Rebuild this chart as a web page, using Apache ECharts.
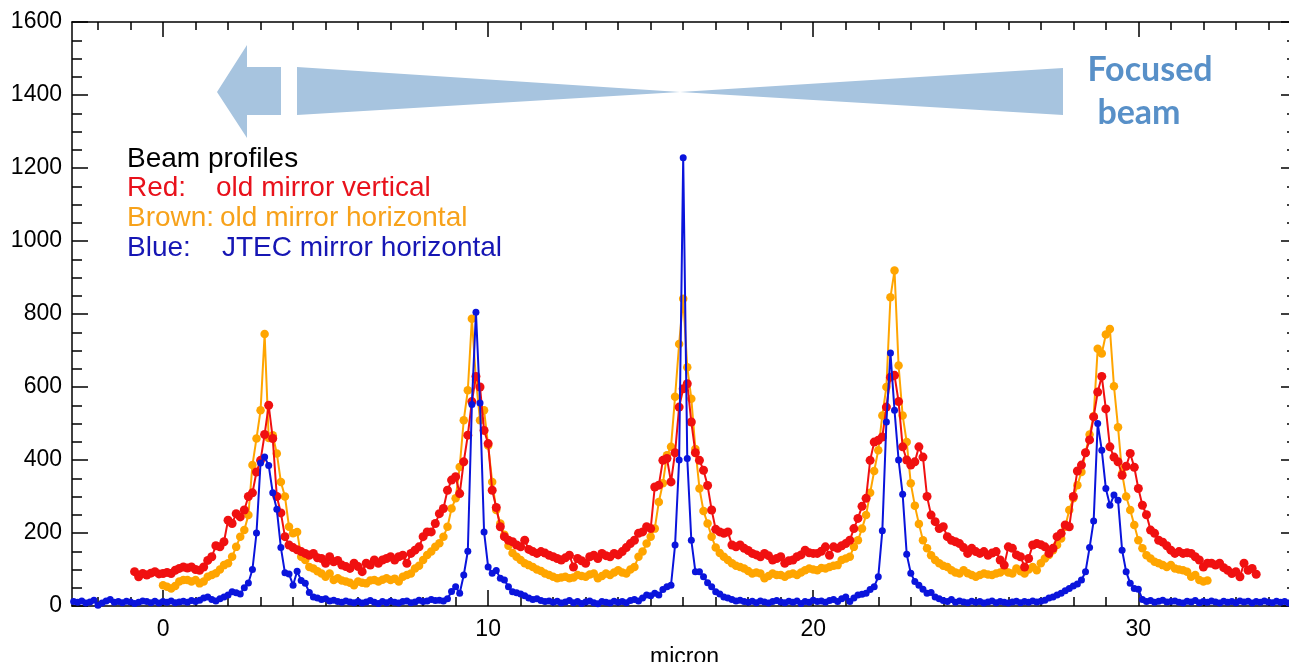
<!DOCTYPE html>
<html>
<head>
<meta charset="utf-8">
<title>Beam profiles</title>
<script src="https://cdn.jsdelivr.net/npm/echarts@6/dist/echarts.min.js"></script>
<style>
  html, body { margin: 0; padding: 0; background: #ffffff; }
  #chart { width: 1289px; height: 662px; }
</style>
</head>
<body>
<div id="chart"></div>
<script>
// Scan positions: each profile is sampled on a regular 0.125 micron grid.
const sampleStep = 0.125;
const redStart = -0.875;
const orangeStart = 0.0;
const blueStart = -2.75;

// Red: old mirror vertical
const redValues = [
  94, 80, 89, 85, 90, 94, 88,
  89, 92, 89, 98, 103, 107, 104, 107,
  100, 98, 107, 125, 135, 165, 162, 176,
  235, 226, 253, 244, 263, 300, 310, 367,
  399, 470, 550, 459, 300, 255, 190, 167,
  160, 154, 149, 144, 139, 144, 132, 130,
  117, 135, 121, 125, 112, 108, 103, 117,
  108, 94, 117, 112, 126, 117, 126, 130,
  135, 126, 135, 139, 117, 144, 153, 162,
  190, 203, 203, 226, 253, 267, 317, 345,
  354, 308, 395, 468, 560, 629, 600, 481,
  445, 317, 270, 217, 190, 180, 176, 167,
  162, 180, 155, 149, 144, 149, 145, 139,
  135, 130, 126, 132, 139, 107, 130, 124,
  117, 135, 139, 130, 144, 138, 135, 144,
  140, 149, 160, 171, 180, 199, 203, 217,
  212, 326, 331, 399, 404, 340, 420, 545,
  595, 609, 504, 420, 399, 372, 330, 263,
  210, 203, 199, 203, 167, 162, 167, 158,
  152, 144, 140, 135, 144, 138, 126, 130,
  135, 117, 124, 126, 135, 140, 153, 146,
  144, 144, 150, 162, 139, 162, 158, 165,
  171, 180, 212, 240, 273, 295, 399, 449,
  454, 463, 545, 627, 632, 560, 436, 400,
  386, 395, 436, 408, 300, 249, 231, 212,
  217, 190, 180, 176, 171, 160, 144, 158,
  149, 144, 149, 139, 145, 149, 126, 112,
  162, 158, 140, 135, 107, 130, 167, 171,
  168, 162, 144, 158, 190, 199, 222, 217,
  300, 370, 386, 420, 455, 518, 586, 629,
  540, 436, 408, 395, 358, 383, 418, 380,
  322, 276, 250, 208, 199, 180, 175, 165,
  153, 144, 149, 144, 146, 144, 135, 126,
  107, 117, 117, 112, 117, 105, 98, 89,
  94, 80, 117, 98, 103, 87
];

// Brown: old mirror horizontal
const orangeValues = [
  57, 53, 48, 55, 67, 71, 71, 67,
  71, 62, 67, 80, 85, 90, 100, 112,
  117, 135, 162, 190, 208, 249, 386, 459,
  536, 745, 460, 468, 418, 340, 300, 217,
  199, 203, 135, 126, 107, 103, 95, 89,
  80, 89, 71, 76, 70, 67, 64, 57,
  67, 64, 62, 70, 71, 67, 72, 76,
  71, 75, 67, 80, 85, 89, 103, 110,
  126, 140, 149, 162, 172, 190, 217, 267,
  295, 381, 509, 591, 787, 620, 509, 536,
  440, 340, 263, 226, 195, 165, 145, 135,
  126, 117, 112, 107, 100, 96, 89, 85,
  80, 76, 78, 80, 76, 78, 85, 82,
  80, 86, 89, 76, 82, 89, 85, 92,
  98, 92, 89, 100, 107, 135, 149, 171,
  190, 212, 285, 336, 413, 436, 573, 718,
  842, 654, 568, 430, 322, 260, 226, 190,
  160, 145, 135, 126, 117, 110, 107, 103,
  96, 89, 92, 89, 76, 82, 89, 85,
  85, 80, 86, 89, 85, 92, 98, 103,
  100, 98, 104, 103, 107, 110, 112, 126,
  130, 135, 162, 180, 212, 249, 310, 370,
  427, 522, 600, 846, 919, 659, 522, 449,
  336, 275, 225, 180, 158, 139, 126, 117,
  110, 107, 98, 92, 89, 98, 90, 85,
  80, 85, 89, 86, 85, 89, 92, 98,
  92, 89, 103, 95, 89, 100, 107, 98,
  117, 130, 140, 153, 167, 185, 217, 263,
  295, 331, 367, 420, 470, 520, 705, 692,
  744, 759, 602, 490, 363, 300, 263, 222,
  180, 158, 139, 130, 121, 117, 112, 107,
  112, 103, 100, 98, 94, 80, 85, 71,
  67, 70
];

// Blue: JTEC mirror horizontal
const blueValues = [
  12, 10, 14, 8, 11, 16,
  2, 8, 14, 18, 10, 12, 9, 13,
  11, 7, 10, 14, 12, 9, 13, 8,
  12, 10, 14, 9, 11, 13, 10, 15,
  12, 16, 22, 25, 18, 14, 20, 25,
  30, 39, 36, 33, 50, 63, 100, 200,
  392, 408, 385, 310, 265, 160, 91, 88,
  57, 95, 70, 62, 37, 25, 22, 18,
  20, 14, 16, 12, 10, 14, 11, 9,
  12, 8, 11, 15, 10, 7, 12, 9,
  13, 10, 8, 12, 14, 9, 11, 16,
  12, 14, 18, 15, 16, 14, 20, 40,
  53, 35, 85, 150, 552, 805, 556, 203,
  107, 90, 97, 76, 71, 53, 39, 36,
  33, 28, 22, 18, 20, 15, 12, 14,
  10, 13, 8, 11, 15, 9, 12, 7,
  11, 14, 9, 6, 12, 10, 8, 13,
  10, 12, 9, 15, 18, 14, 22, 30,
  28, 35, 30, 45, 53, 57, 167, 400,
  1228, 404, 180, 94, 94, 80, 64, 53,
  39, 33, 25, 22, 18, 14, 16, 12,
  10, 13, 9, 14, 11, 8, 12, 15,
  11, 9, 13, 10, 14, 7, 12, 10,
  16, 12, 14, 10, 15, 18, 12, 20,
  25, 12, 22, 30, 32, 35, 45, 53,
  80, 206, 504, 693, 536, 400, 306, 142,
  90, 67, 57, 46, 35, 37, 25, 20,
  15, 12, 18, 10, 14, 11, 9, 13,
  10, 12, 8, 11, 14, 9, 12, 10,
  8, 11, 13, 9, 12, 10, 14, 11,
  13, 16, 22, 25, 30, 35, 42, 48,
  55, 60, 71, 94, 160, 233, 500, 427,
  322, 276, 304, 290, 153, 94, 62, 48,
  46, 18, 12, 15, 10, 13, 16, 11,
  12, 14, 10, 8, 13, 11, 15, 9,
  12, 10, 14, 11, 8, 13, 10, 12,
  9, 14, 11, 13, 8, 12, 10, 14,
  11, 9, 13, 10, 12, 8, 11
];

// Axis ranges and tick positions
const xRange = [-2.8, 34.88];
const xMajorTicks = [0, 10, 20, 30];
const xMinorTicks = [-2, -1, 1, 2, 3, 4, 5, 6, 7, 8, 9, 11, 12, 13, 14, 15, 16, 17, 18, 19,
                     21, 22, 23, 24, 25, 26, 27, 28, 29, 31, 32, 33, 34];
const yRange = [0, 1600];
const yInterval = 200;

// Legend text
const legendTitle = 'Beam profiles';
const legendRows = [
  { key: 'Red:', text: 'old mirror vertical', color: '#e8111b' },
  { key: 'Brown:', text: 'old mirror horizontal', color: '#f7a21b' },
  { key: 'Blue:', text: 'JTEC mirror horizontal', color: '#1616b4' }
];
const beamLabel = ['Focused', 'beam'];

const RED = '#f01010';
const ORANGE = '#ffa500';
const BLUE = '#0a14dc';
const ARROW = '#a7c4df';
const FONT = '"Liberation Sans", Arial, sans-serif';

function toPoints(start, values) {
  return values.map((v, i) => [+(start + i * sampleStep).toFixed(4), v]);
}

function profileSeries(name, start, values, color, dot, z) {
  return {
    name: name,
    type: 'line',
    data: toPoints(start, values),
    symbol: 'circle',
    symbolSize: dot,
    showAllSymbol: true,
    lineStyle: { color: color, width: 2 },
    itemStyle: { color: color },
    emphasis: { disabled: true },
    z: z
  };
}

const axisBlack = { color: '#000', width: 1.5 };

function xAxisDef(position, ticks, len, withLine, withLabels) {
  return {
    type: 'value',
    position: position,
    min: xRange[0],
    max: xRange[1],
    axisLine: { show: withLine, onZero: false, lineStyle: axisBlack },
    axisTick: { show: true, inside: true, length: len, customValues: ticks, lineStyle: axisBlack },
    axisLabel: withLabels
      ? { show: true, customValues: ticks, margin: 12, color: '#000', fontSize: 23, fontFamily: FONT,
          formatter: (v) => String(v) }
      : { show: false },
    splitLine: { show: false },
    name: withLabels ? 'micron' : '',
    nameLocation: 'middle',
    nameGap: 38,
    nameTextStyle: { color: '#000', fontSize: 23, fontFamily: FONT }
  };
}

function yAxisDef(position, withLabels) {
  return {
    type: 'value',
    position: position,
    min: yRange[0],
    max: yRange[1],
    interval: yInterval,
    axisLine: { show: true, onZero: false, lineStyle: axisBlack },
    axisTick: { show: true, inside: true, length: 16, lineStyle: axisBlack },
    minorTick: { show: true, splitNumber: 4, length: 10, lineStyle: axisBlack },
    axisLabel: withLabels
      ? { show: true, margin: 10, color: '#000', fontSize: 23, fontFamily: FONT,
          formatter: (v) => String(v) }
      : { show: false },
    splitLine: { show: false }
  };
}

// Annotation shapes: beam arrow and focusing wedges
const graphics = [
  { type: 'polygon', shape: { points: [[217, 92], [247, 45], [247, 67], [281, 67], [281, 115], [247, 115], [247, 138]] },
    style: { fill: ARROW }, z: 1 },
  { type: 'polygon', shape: { points: [[297, 67], [680, 92], [297, 115]] }, style: { fill: ARROW }, z: 1 },
  { type: 'polygon', shape: { points: [[680, 92], [1063, 68], [1063, 115]] }, style: { fill: ARROW }, z: 1 },
  { type: 'text', x: 1150, y: 70, style: { text: beamLabel[0], fill: '#5890c8', font: 'bold 34px Lato, "Open Sans", sans-serif', textAlign: 'center', textVerticalAlign: 'middle' }, z: 5 },
  { type: 'text', x: 1139, y: 113, style: { text: beamLabel[1], fill: '#5890c8', font: 'bold 34px Lato, "Open Sans", sans-serif', textAlign: 'center', textVerticalAlign: 'middle' }, z: 5 },
  { type: 'text', x: 127, y: 159, style: { text: legendTitle, fill: '#000', font: '28px ' + FONT, textAlign: 'left', textVerticalAlign: 'middle' }, z: 5 }
];
const legendKeyX = 127;
const legendTextX = [216, 220, 222];
legendRows.forEach((row, i) => {
  const y = 188 + i * 30;
  graphics.push({ type: 'text', x: legendKeyX, y: y, style: { text: row.key, fill: row.color, font: '28px ' + FONT, textAlign: 'left', textVerticalAlign: 'middle' }, z: 5 });
  graphics.push({ type: 'text', x: legendTextX[i], y: y, style: { text: row.text, fill: row.color, font: '28px ' + FONT, textAlign: 'left', textVerticalAlign: 'middle' }, z: 5 });
});

const chart = echarts.init(document.getElementById('chart'), null, { renderer: 'canvas' });
chart.setOption({
  animation: false,
  backgroundColor: '#ffffff',
  grid: { left: 72, right: -8, top: 22, bottom: 56, containLabel: false, outerBoundsMode: 'none' },
  xAxis: [
    xAxisDef('bottom', xMajorTicks, 16, true, true),
    xAxisDef('bottom', xMinorTicks, 9, false, false),
    xAxisDef('top', xMajorTicks, 15, true, false),
    xAxisDef('top', xMinorTicks, 8, false, false)
  ],
  yAxis: [
    yAxisDef('left', true),
    yAxisDef('right', false)
  ],
  series: [
    profileSeries('Brown', orangeStart, orangeValues, ORANGE, 8.5, 2),
    profileSeries('Red', redStart, redValues, RED, 9, 3),
    profileSeries('Blue', blueStart, blueValues, BLUE, 7, 4)
  ],
  graphic: { elements: graphics }
});
</script>
</body>
</html>
